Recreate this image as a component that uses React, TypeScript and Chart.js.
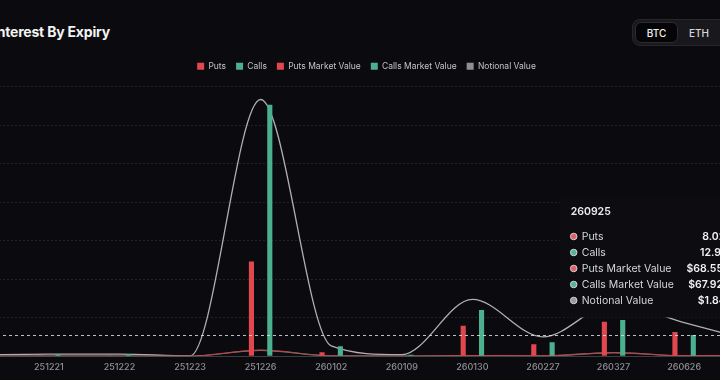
import React, { useEffect, useRef } from 'react';
import { Chart, registerables } from 'chart.js';

Chart.register(...registerables);

// ---- data ----
const expiries = ['251220', '251221', '251222', '251223', '251226', '260102', '260109', '260130', '260227', '260327', '260626', '260925'];
// open interest, thousands of BTC
const puts = [0.5, 0.8, 0.8, 0.2, 98.4, 4.2, 0.5, 31.5, 12.5, 35.7, 25.0, 8.02];
const calls = [1.2, 2.0, 2.2, 0.3, 261.0, 10.4, 1.5, 47.9, 14.6, 37.5, 21.9, 12.91];
// USD billions
const putsMarketValue = [0.01, 0.02, 0.02, 0.01, 0.74, 0.05, 0.02, 0.08, 0.05, 0.45, 0.06, 0.06855];
const callsMarketValue = [0.01, 0.02, 0.02, 0.01, 0.72, 0.04, 0.02, 0.07, 0.04, 0.43, 0.05, 0.06792];
const notionalValue = [0.15, 0.25, 0.26, 0.04, 31.6, 1.28, 0.18, 6.99, 2.38, 6.44, 4.13, 1.84];
const seriesNames = ['Puts', 'Calls', 'Puts Market Value', 'Calls Market Value', 'Notional Value'];
const hoverIndex = 11;
const crosshairValue = 21.9;

const BG = '#0b0b0f';
const RED = '#e0474f';
const TEAL = '#4caf8d';
const FONT = 'Inter, "Noto Sans", sans-serif';

const legendColors = [RED, TEAL, RED, TEAL, '#8f8f93'];
const dotColors = ['#e0606a', '#58b396', '#e0606a', '#58b396', '#9a9a9e'];

function fmtK(v: number) { return v.toFixed(2) + 'K'; }
function fmtM(v: number) { return '$' + (v * 1000).toFixed(2) + 'M'; }
function fmtB(v: number) { return '$' + v.toFixed(2) + 'B'; }

const legendSpacing = {
  id: 'legendSpacing',
  beforeInit(chart: any) {
    const l = chart.legend;
    if (!l) return;
    const fit = l.fit;
    l.fit = function () {
      fit.call(this);
      this.height += 6;
    };
  },
};

const overlay = {
  id: 'overlay',
  afterDatasetsDraw(chart: any) {
    const { ctx, chartArea, scales } = chart;
    const y = scales.y.getPixelForValue(crosshairValue);
    ctx.save();
    ctx.strokeStyle = 'rgba(225,225,225,0.85)';
    ctx.lineWidth = 1;
    ctx.setLineDash([3, 3]);
    ctx.beginPath();
    ctx.moveTo(chartArea.left, Math.round(y) + 0.5);
    ctx.lineTo(chartArea.right, Math.round(y) + 0.5);
    ctx.stroke();
    ctx.restore();
  },
  afterDraw(chart: any) {
    const { ctx, chartArea, scales } = chart;
    const ax = scales.x.getPixelForValue(hoverIndex);
    const left = ax - 195;
    const top = chartArea.top + 110;
    const w = 190;
    const h = 121;
    ctx.save();
    ctx.fillStyle = '#0c0c11';
    ctx.beginPath();
    (ctx as any).roundRect(left, top, w, h, 6);
    ctx.fill();
    ctx.textBaseline = 'middle';
    ctx.fillStyle = '#ececec';
    ctx.font = `600 10.5px ${FONT}`;
    ctx.textAlign = 'left';
    ctx.fillText(expiries[hoverIndex], left + 11, top + 15);
    const values = [
      fmtK(puts[hoverIndex]),
      fmtK(calls[hoverIndex]),
      fmtM(putsMarketValue[hoverIndex]),
      fmtM(callsMarketValue[hoverIndex]),
      fmtB(notionalValue[hoverIndex]),
    ];
    seriesNames.forEach((name, i) => {
      const cy = top + 40 + i * 16;
      ctx.beginPath();
      ctx.arc(left + 14, cy, 3.3, 0, Math.PI * 2);
      ctx.fillStyle = dotColors[i];
      ctx.fill();
      ctx.lineWidth = 1;
      ctx.strokeStyle = 'rgba(235,235,235,0.8)';
      ctx.stroke();
      ctx.textAlign = 'left';
      ctx.font = `400 10.5px ${FONT}`;
      ctx.fillStyle = '#d6d6d8';
      ctx.fillText(name, left + 22, cy);
      ctx.textAlign = 'right';
      ctx.font = `600 10.5px ${FONT}`;
      ctx.fillStyle = '#f2f2f2';
      ctx.fillText(values[i], left + 173, cy);
    });
    ctx.restore();
  },
};

export default function App() {
  const ref = useRef<HTMLCanvasElement>(null);
  useEffect(() => {
    if (!ref.current) return;
    const chart = new Chart(ref.current, {
      type: 'bar',
      data: {
        labels: expiries,
        datasets: [
          { type: 'bar', label: seriesNames[0], data: puts, backgroundColor: RED, yAxisID: 'y', categoryPercentage: 0.52, barPercentage: 0.28 } as any,
          { type: 'bar', label: seriesNames[1], data: calls, backgroundColor: TEAL, yAxisID: 'y', categoryPercentage: 0.52, barPercentage: 0.28 } as any,
          { type: 'line', label: seriesNames[2], data: putsMarketValue, borderColor: 'rgba(200,62,72,0.9)', backgroundColor: RED, borderWidth: 1.2, pointRadius: 0, cubicInterpolationMode: 'monotone', tension: 0.4, yAxisID: 'y1', fill: false },
          { type: 'line', label: seriesNames[3], data: callsMarketValue, borderColor: 'rgba(70,160,130,0.9)', backgroundColor: TEAL, borderWidth: 1.2, pointRadius: 0, cubicInterpolationMode: 'monotone', tension: 0.4, yAxisID: 'y1', fill: false },
          { type: 'line', label: seriesNames[4], data: notionalValue, borderColor: 'rgba(205,205,208,0.85)', backgroundColor: '#8f8f93', borderWidth: 1.3, pointRadius: 0, cubicInterpolationMode: 'monotone', tension: 0.4, yAxisID: 'y1', fill: false },
        ],
      },
      options: {
        animation: false,
        responsive: true,
        maintainAspectRatio: false,
        events: [],
        layout: { padding: 0 },
        plugins: {
          tooltip: { enabled: false },
          legend: {
            display: true,
            position: 'top',
            labels: {
              color: '#c4c4c8',
              font: { size: 8.5, family: FONT },
              boxWidth: 7,
              boxHeight: 7,
              padding: 10,
              generateLabels: (c: any) => {
                const items = Chart.defaults.plugins.legend.labels.generateLabels(c);
                return items.map((it: any, i: number) => ({ ...it, fillStyle: legendColors[i], strokeStyle: legendColors[i], lineWidth: 0 }));
              },
            },
          },
        },
        scales: {
          x: {
            offset: true,
            grid: { display: false, drawTicks: false },
            border: { display: true, color: '#3c3c42', width: 1 },
            ticks: { color: '#8e8e95', font: { size: 9, family: FONT, weight: 500 as any }, padding: 6, autoSkip: false, maxRotation: 0 },
          },
          y: {
            display: true,
            min: 0,
            max: 280,
            ticks: { display: false, stepSize: 40 },
            grid: { drawTicks: false, color: 'rgba(255,255,255,0.1)', lineWidth: 1 },
            border: { display: false, dash: [2, 2] },
          },
          y1: {
            display: false,
            min: 0,
            max: 33.2,
          },
        },
      },
      plugins: [legendSpacing, overlay],
    });
    return () => chart.destroy();
  }, []);

  return (
    <div style={{ position: 'fixed', left: 0, top: 0, width: 720, height: 380, overflow: 'hidden', background: BG }}>
      <div style={{ position: 'absolute', left: -46, top: 23, color: '#f3f3f3', font: `700 14px ${FONT}`, letterSpacing: '-0.2px', whiteSpace: 'nowrap' }}>
        Open Interest By Expiry
      </div>
      <div style={{ position: 'absolute', left: 632, top: 19, width: 112, height: 27, boxSizing: 'border-box', background: '#18181d', border: '1px solid #26262c', borderRadius: 8 }}>
        <div style={{ position: 'absolute', left: 2, top: 2, width: 43, height: 21, boxSizing: 'border-box', background: '#050507', border: '1px solid #2c2c32', borderRadius: 6, color: '#f0f0f0', font: `500 10px ${FONT}`, display: 'flex', alignItems: 'center', justifyContent: 'center' }}>BTC</div>
        <div style={{ position: 'absolute', left: 50, top: 2, width: 32, height: 21, color: '#d8d8dc', font: `500 10px ${FONT}`, display: 'flex', alignItems: 'center', justifyContent: 'center' }}>ETH</div>
      </div>
      <div style={{ position: 'absolute', left: -57, top: 52, width: 847, height: 327 }}>
        <canvas ref={ref} />
      </div>
    </div>
  );
}
